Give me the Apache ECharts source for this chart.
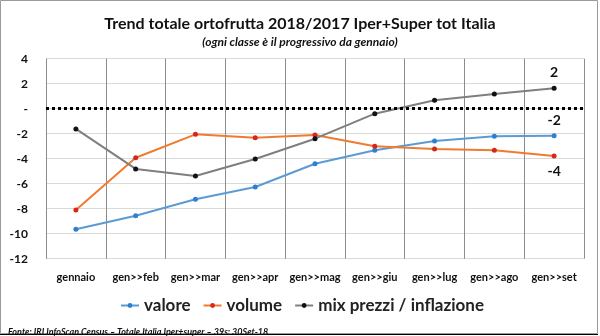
<!DOCTYPE html>
<html><head><meta charset="utf-8">
<script src="https://cdn.jsdelivr.net/npm/echarts@6/dist/echarts.min.js"></script>
<style>html,body{margin:0;padding:0;background:#fff}#c{width:600px;height:336px}</style>
</head><body><div id="c"></div>
<script>
const categories = ['gennaio','gen>>feb','gen>>mar','gen>>apr','gen>>mag','gen>>giu','gen>>lug','gen>>ago','gen>>set'];
const valore = [-9.65,-8.56,-7.25,-6.26,-4.4,-3.33,-2.58,-2.21,-2.16];
const volume = [-8.1,-3.92,-2.05,-2.32,-2.1,-3.01,-3.22,-3.33,-3.78];
const mix = [-1.62,-4.82,-5.38,-4.02,-2.4,-0.4,0.67,1.18,1.63];
const yTicks = {min:-12, max:4, interval:2};
const titleText = 'Trend totale ortofrutta 2018/2017 Iper+Super tot Italia';
const subtitleText = '(ogni classe è il progressivo da gennaio)';
const sourceText = 'Fonte: IRI InfoScan Census – Totale Italia Iper+super – 39s: 30Set-18';

const F = 'Lato, "Open Sans", sans-serif';
function withEndLabel(arr, pos){
  return arr.map((v,i)=> i===arr.length-1 ? {value:v, label:{show:true, position:pos, distance:6, formatter:()=>String(Math.round(v)), fontFamily:F, fontWeight:'bold', fontSize:14, color:'#111'}} : v);
}
const chart = echarts.init(document.getElementById('c'), null, {renderer:'canvas'});
chart.setOption({
  backgroundColor:'#fff',
  animation:false,
  title:[
    {text:titleText, left:'center', top:11, textStyle:{fontFamily:F, fontWeight:'bold', fontSize:16, color:'#111'}},
    {text:subtitleText, left:'center', top:31, textStyle:{fontFamily:F, fontWeight:'bold', fontStyle:'italic', fontSize:12, color:'#111'}},
    {text:sourceText, left:3, top:323, textStyle:{fontFamily:F, fontWeight:'bold', fontStyle:'italic', fontSize:9, color:'#111'}}
  ],
  grid:{left:46, right:16, top:58.7, bottom:77.3},
  legend:{
    left:115, top:292, itemWidth:18, itemHeight:6, itemGap:12,
    textStyle:{fontFamily:F, fontWeight:'bold', fontSize:17, color:'#222'},
    data:['valore','volume','mix prezzi / inflazione']
  },
  xAxis:{
    type:'category', data:categories, boundaryGap:true,
    axisLine:{show:true, lineStyle:{color:'#d9d9d9'}},
    axisTick:{show:true, interval:0, length:4, lineStyle:{color:'#888'}},
    axisLabel:{interval:0, fontFamily:F, fontWeight:'bold', fontSize:11, color:'#111', margin:13},
    splitLine:{show:true, interval:0, lineStyle:{color:'#8c8c8c', width:1}}
  },
  yAxis:{
    type:'value', min:yTicks.min, max:yTicks.max, interval:yTicks.interval,
    axisLine:{show:false}, axisTick:{show:false},
    axisLabel:{fontFamily:F, fontWeight:'bold', fontSize:12, color:'#111', margin:18,
      formatter:v=> v===0 ? '-' : String(v)},
    splitLine:{show:true, lineStyle:{color:'#dadada'}}
  },
  series:[
    {name:'valore', type:'line', data:withEndLabel(valore,'top'), symbol:'circle', symbolSize:5,
      lineStyle:{color:'#5b9bd5', width:2}, itemStyle:{color:'#2f7fd0'},
      markLine:{silent:true, symbol:['none','none'], label:{show:false},
        lineStyle:{color:'#000', width:3, type:[3,3]}, data:[{yAxis:0}]}},
    {name:'volume', type:'line', data:withEndLabel(volume,'bottom'), symbol:'circle', symbolSize:5,
      lineStyle:{color:'#f07b2e', width:2}, itemStyle:{color:'#d7261e'}},
    {name:'mix prezzi / inflazione', type:'line', data:withEndLabel(mix,'top'), symbol:'circle', symbolSize:5,
      lineStyle:{color:'#7f7f7f', width:2}, itemStyle:{color:'#111'}}
  ],
  graphic:[
    {type:'rect', shape:{x:0.5, y:0.5, width:597, height:333}, style:{fill:'none', stroke:'#9a9a9a', lineWidth:1}, silent:true},
    {type:'line', shape:{x1:0, y1:334.5, x2:598, y2:334.5}, style:{stroke:'#000', lineWidth:1}, silent:true}
  ]
});
</script></body></html>
